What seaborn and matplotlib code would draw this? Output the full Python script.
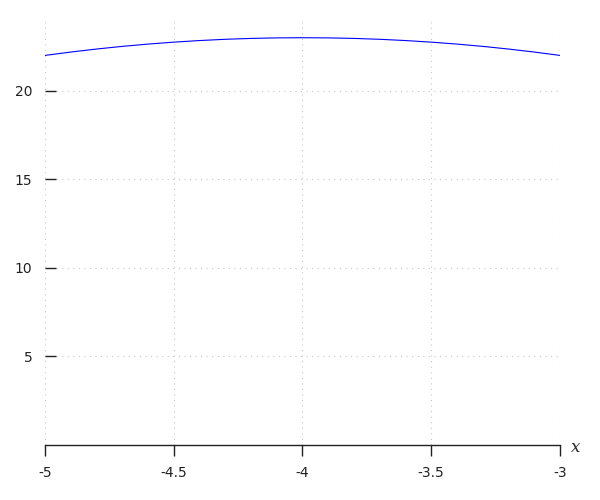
import matplotlib
matplotlib.use("Agg")
import matplotlib.pyplot as plt
import seaborn as sns
import pandas as pd

x_vals = [-5.0, -4.9, -4.8, -4.7, -4.6, -4.5, -4.4, -4.3, -4.2, -4.1, -4.0,
          -3.9, -3.8, -3.7, -3.6, -3.5, -3.4, -3.3, -3.2, -3.1, -3.0]
y_vals = [22.00, 22.19, 22.36, 22.51, 22.64, 22.75, 22.84, 22.91, 22.96, 22.99, 23.00,
          22.99, 22.96, 22.91, 22.84, 22.75, 22.64, 22.51, 22.36, 22.19, 22.00]
x_ticks = [-5, -4.5, -4, -3.5, -3]
x_tick_labels = ["-5", "-4.5", "-4", "-3.5", "-3"]
y_ticks = [5, 10, 15, 20]
y_tick_labels = ["5", "10", "15", "20"]

sns.set_style("white")
plt.rcParams['font.family'] = ['DejaVu Sans']

df = pd.DataFrame({"x": x_vals, "y": y_vals})

fig = plt.figure(figsize=(6, 5), dpi=100)
ax = fig.add_axes([0.075, 0.11, 0.8583, 0.85])

sns.lineplot(data=df, x="x", y="y", ax=ax, color="#0000ff", linewidth=0.8)

ax.set_xlim(-5, -3)
ax.set_ylim(0, 24)
ax.set_xticks(x_ticks)
ax.set_xticklabels(x_tick_labels, fontsize=10, color="#222222")
ax.set_yticks(y_ticks)
ax.set_yticklabels(y_tick_labels, fontsize=10, color="#222222")

for s in ["top", "right", "left"]:
    ax.spines[s].set_visible(False)
ax.spines["bottom"].set_color("#222222")
ax.spines["bottom"].set_linewidth(1.0)

ax.tick_params(axis="x", direction="out", length=8, width=1, color="#222222", pad=7, bottom=True)
ax.tick_params(axis="y", direction="in", length=8, width=1, color="#222222", pad=9, left=True)

ax.grid(True, linestyle=(0, (1, 4)), color="#c8c8c8", linewidth=0.8)
ax.set_axisbelow(True)

ax.set_xlabel("")
ax.set_ylabel("")
ax.text(1.03, -0.005, "x", transform=ax.transAxes, fontsize=12, style="italic",
        family="DejaVu Serif", ha="center", va="center")

fig.savefig("out.png", dpi=100)
